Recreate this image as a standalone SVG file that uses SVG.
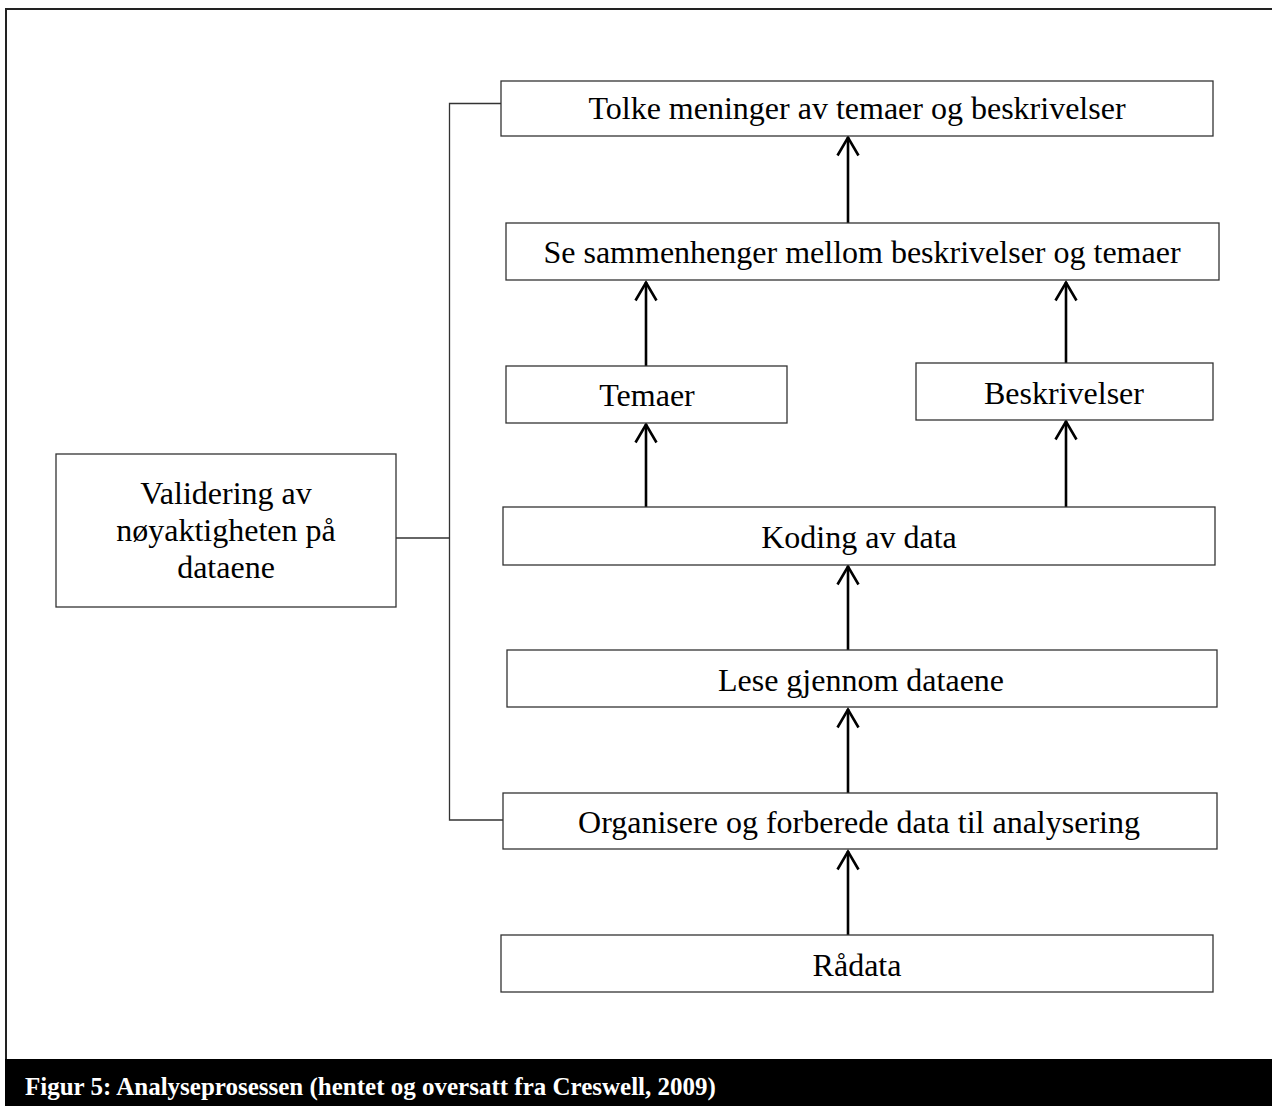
<svg xmlns="http://www.w3.org/2000/svg" width="1272" height="1106" viewBox="0 0 1272 1106">
  <defs>
    <style>
      .box { fill: #ffffff; stroke: #333333; stroke-width: 1.3; }
      .lbl { font-family: "Liberation Serif", "Times New Roman", serif; font-size: 32px; fill: #000000; text-anchor: middle; }
      .link { stroke: #000000; stroke-width: 2.6; fill: none; }
      .brk { stroke: #333333; stroke-width: 1.3; fill: none; }
      .cap { font-family: "Liberation Serif", "Times New Roman", serif; font-size: 25px; font-weight: bold; fill: #ffffff; }
    </style>
    <!-- open chevron head, tip at the end of the line -->
    <marker id="chev" markerUnits="userSpaceOnUse" markerWidth="24" markerHeight="26" refX="20.5" refY="13" orient="auto" viewBox="0 0 24 26">
      <path d="M2 2.5 L20 13 L2 23.5" fill="none" stroke="#000000" stroke-width="2.6"/>
    </marker>
  </defs>

  <!-- page frame -->
  <rect x="0" y="0" width="1272" height="1106" fill="#ffffff"/>
  <path d="M6 1060 V9 H1272" fill="none" stroke="#222222" stroke-width="2"/>

  <!-- caption band -->
  <g id="caption">
    <rect x="5" y="1059" width="1267" height="47" fill="#000000"/>
    <text class="cap" x="25" y="1095">Figur 5: Analyseprosessen (hentet og oversatt fra Creswell, 2009)</text>
  </g>

  <!-- connectors -->
  <g id="connectors">
    <!-- validation bracket -->
    <path class="brk" d="M501 103.5 H449.5 V820 H503"/>
    <path class="brk" d="M396 538 H449.5"/>
    <!-- upward flow arrows -->
    <line class="link" x1="848" y1="935" x2="848" y2="851" marker-end="url(#chev)"/>
    <line class="link" x1="848" y1="793" x2="848" y2="709" marker-end="url(#chev)"/>
    <line class="link" x1="848" y1="650" x2="848" y2="566" marker-end="url(#chev)"/>
    <line class="link" x1="646" y1="507" x2="646" y2="424" marker-end="url(#chev)"/>
    <line class="link" x1="1066" y1="507" x2="1066" y2="421" marker-end="url(#chev)"/>
    <line class="link" x1="646" y1="366" x2="646" y2="282" marker-end="url(#chev)"/>
    <line class="link" x1="1066" y1="363" x2="1066" y2="282" marker-end="url(#chev)"/>
    <line class="link" x1="848" y1="223" x2="848" y2="137" marker-end="url(#chev)"/>
  </g>

  <!-- nodes -->
  <g id="tolke">
    <rect class="box" x="501" y="81" width="712" height="55"/>
    <text class="lbl" x="857" y="119">Tolke meninger av temaer og beskrivelser</text>
  </g>
  <g id="sammenhenger">
    <rect class="box" x="506" y="223" width="713" height="57"/>
    <text class="lbl" x="862" y="263">Se sammenhenger mellom beskrivelser og temaer</text>
  </g>
  <g id="temaer">
    <rect class="box" x="506" y="366" width="281" height="57"/>
    <text class="lbl" x="647" y="406">Temaer</text>
  </g>
  <g id="beskrivelser">
    <rect class="box" x="916" y="363" width="297" height="57"/>
    <text class="lbl" x="1064" y="404">Beskrivelser</text>
  </g>
  <g id="validering">
    <rect class="box" x="56" y="454" width="340" height="153"/>
    <text class="lbl" x="226" y="504">Validering av</text>
    <text class="lbl" x="226" y="541">nøyaktigheten på</text>
    <text class="lbl" x="226" y="578">dataene</text>
  </g>
  <g id="koding">
    <rect class="box" x="503" y="507" width="712" height="58"/>
    <text class="lbl" x="859" y="548">Koding av data</text>
  </g>
  <g id="lese">
    <rect class="box" x="507" y="650" width="710" height="57"/>
    <text class="lbl" x="861" y="691">Lese gjennom dataene</text>
  </g>
  <g id="organisere">
    <rect class="box" x="503" y="793" width="714" height="56"/>
    <text class="lbl" x="859" y="833">Organisere og forberede data til analysering</text>
  </g>
  <g id="raadata">
    <rect class="box" x="501" y="935" width="712" height="57"/>
    <text class="lbl" x="857" y="976">Rådata</text>
  </g>
</svg>
